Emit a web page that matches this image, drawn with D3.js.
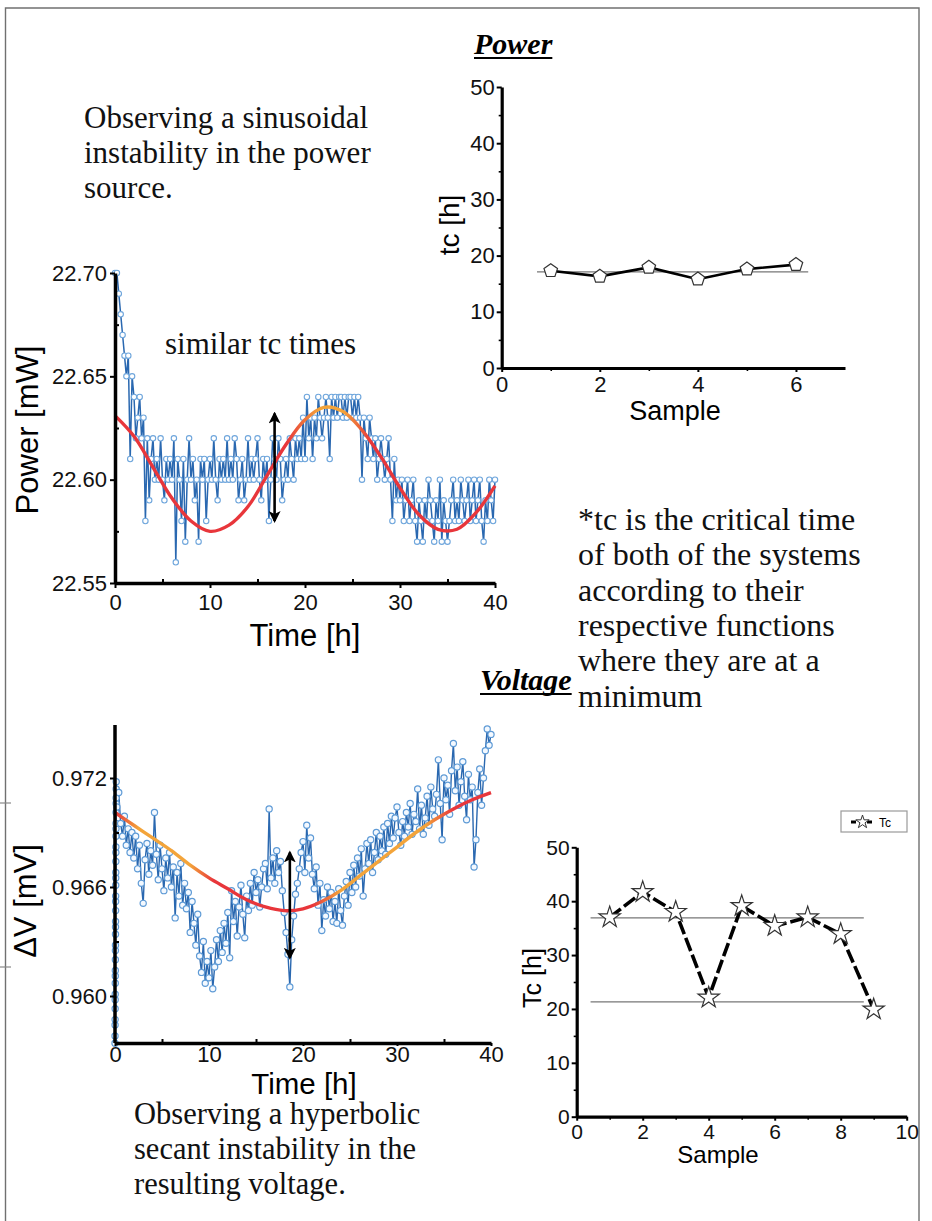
<!DOCTYPE html>
<html><head><meta charset="utf-8">
<script src="https://cdn.jsdelivr.net/npm/d3@7"></script>
<style>
html,body{margin:0;padding:0;background:#fff;}
svg{display:block;}
.sans{font-family:"Liberation Sans",Arial,sans-serif;}
.serif{font-family:"Liberation Serif","Times New Roman",serif;}
</style></head><body>
<svg id="fig" width="932" height="1221"></svg>
<script>
// ---------- data ----------
// Power measurement, one sample every 0.2 h from t = 0 h
const powerStep = 0.2;
const powerValues = [
22.70,22.70,22.69,22.68,22.67,22.66,22.65,22.66,22.61,22.65,
22.64,22.62,22.63,22.64,22.62,22.63,22.58,22.62,22.59,22.61,
22.62,22.60,22.61,22.60,22.62,22.60,22.59,22.61,22.60,22.61,
22.60,22.62,22.56,22.61,22.60,22.58,22.61,22.57,22.60,22.62,
22.60,22.61,22.59,22.60,22.57,22.61,22.60,22.61,22.58,22.60,
22.61,22.60,22.62,22.60,22.59,22.61,22.60,22.61,22.60,22.62,
22.60,22.61,22.60,22.62,22.61,22.59,22.60,22.61,22.59,22.60,
22.62,22.60,22.61,22.60,22.61,22.62,22.60,22.59,22.61,22.60,
22.61,22.58,22.60,22.62,22.61,22.60,22.62,22.61,22.59,22.60,
22.61,22.60,22.62,22.61,22.60,22.62,22.61,22.62,22.61,22.63,
22.61,22.64,22.62,22.63,22.61,22.63,22.62,22.64,22.63,22.62,
22.63,22.64,22.63,22.61,22.64,22.63,22.64,22.63,22.64,22.64,
22.63,22.64,22.63,22.64,22.64,22.63,22.64,22.63,22.64,22.63,
22.60,22.63,22.62,22.61,22.63,22.62,22.61,22.62,22.60,22.61,
22.62,22.61,22.60,22.61,22.62,22.60,22.58,22.61,22.59,22.60,
22.59,22.60,22.58,22.59,22.60,22.58,22.59,22.60,22.58,22.57,
22.59,22.58,22.57,22.59,22.58,22.60,22.59,22.58,22.57,22.59,
22.58,22.60,22.57,22.59,22.58,22.57,22.58,22.59,22.60,22.58,
22.59,22.58,22.60,22.59,22.58,22.59,22.60,22.58,22.59,22.60,
22.58,22.59,22.60,22.58,22.57,22.59,22.58,22.60,22.59,22.58,
22.60];

// Fitted curves, sampled every 2 h
const fitTimes = [0,2,4,6,8,10,12,14,16,18,20,22,24,26,28,30,32,34,36,38,40];
const powerFit = [22.631,22.621,22.606,22.591,22.580,22.575,22.578,22.587,22.602,22.617,
                  22.629,22.635,22.633,22.624,22.611,22.596,22.583,22.576,22.576,22.584,22.597];
const voltageFit = [0.9701,0.9694,0.9687,0.9680,0.9672,0.9665,0.9659,0.9653,0.9649,0.9647,
                    0.9648,0.9652,0.9658,0.9666,0.9674,0.9682,0.9690,0.9697,0.9703,0.9708,0.9712];

// Voltage: start-up sweep recorded in the first minutes (0.004 h apart)
const voltageStartStep = 0.004;
const voltageStart = [0.9574,0.9578,0.9584,0.9587,0.9593,0.9598,0.9601,0.9607,0.9611,0.9614,
                      0.9620,0.9625,0.9628,0.9634,0.9638,0.9641,0.9647,0.9652,0.9655,0.9661,
                      0.9665,0.9668,0.9674,0.9679,0.9682,0.9688,0.9692,0.9695,0.9701,0.9706,
                      0.9709,0.9714,0.9718];
// Voltage: regular samples every 0.2 h starting at t = 0.2 h
const voltageStep = 0.2;
const voltageValues = [
0.9704,0.9712,0.9695,0.9688,0.9699,0.9683,0.9692,0.9679,0.9690,
0.9676,0.9688,0.9670,0.9683,0.9662,0.9651,0.9675,0.9684,0.9667,0.9680,
0.9672,0.9701,0.9678,0.9664,0.9683,0.9670,0.9658,0.9676,0.9665,0.9679,
0.9660,0.9671,0.9643,0.9668,0.9655,0.9673,0.9650,0.9662,0.9648,0.9657,
0.9635,0.9652,0.9640,0.9628,0.9645,0.9622,0.9613,0.9630,0.9607,0.9619,
0.9610,0.9625,0.9604,0.9616,0.9631,0.9619,0.9636,0.9624,0.9640,0.9629,
0.9646,0.9621,0.9658,0.9641,0.9652,0.9633,0.9649,0.9661,0.9645,0.9632,
0.9655,0.9647,0.9662,0.9650,0.9668,0.9657,0.9664,0.9649,0.9660,0.9670,
0.9673,0.9659,0.9703,0.9665,0.9676,0.9662,0.9680,0.9668,0.9674,0.9658,
0.9646,0.9635,0.9623,0.9605,0.9631,0.9644,0.9656,0.9662,0.9670,0.9679,
0.9685,0.9668,0.9694,0.9676,0.9687,0.9667,0.9659,0.9671,0.9650,0.9662,
0.9636,0.9653,0.9644,0.9660,0.9648,0.9657,0.9641,0.9652,0.9640,0.9659,
0.9647,0.9639,0.9655,0.9663,0.9650,0.9668,0.9657,0.9672,0.9660,0.9676,
0.9666,0.9681,0.9655,0.9670,0.9684,0.9673,0.9686,0.9668,0.9679,0.9690,
0.9675,0.9688,0.9680,0.9693,0.9678,0.9695,0.9684,0.9699,0.9687,0.9698,
0.9704,0.9690,0.9683,0.9696,0.9688,0.9701,0.9693,0.9706,0.9689,0.9700,
0.9696,0.9714,0.9692,0.9705,0.9689,0.9698,0.9710,0.9694,0.9715,0.9703,
0.9699,0.9711,0.9730,0.9706,0.9686,0.9720,0.9708,0.9716,0.9700,0.9724,
0.9739,0.9713,0.9726,0.9705,0.9718,0.9729,0.9710,0.9697,0.9722,0.9708,
0.9715,0.9671,0.9686,0.9712,0.9725,0.9705,0.9720,0.9735,0.9747,0.9738,
0.9744];

// Critical times per sample
const powerSamples = [1,2,3,4,5,6];
const powerTc = [17.3,16.3,17.9,15.8,17.6,18.4];
const powerTcMean = 17.1;
const voltageSamples = [1,2,3,4,5,6,7,8,9];
const voltageTc = [37.0,41.7,38.0,22.1,39.1,35.4,37.0,33.9,19.9];
const voltageTcLevels = [36.9,21.3];

// Double-headed arrows marking the similar tc times: [time, from, to]
const powerArrow = [16.8, 22.632, 22.580];
const voltageArrow = [18.6, 0.9679, 0.9621];

// Text blocks
const powerNote = ["Observing a sinusoidal", "instability in the power", "source."];
const voltageNote = ["Observing a hyperbolic", "secant instability in the", "resulting voltage."];
const tcNote = ["*tc is the critical time", "of both of the systems", "according to their",
                "respective functions", "where they are at a", "minimum"];

// ---------- drawing ----------
const svg = d3.select("#fig");
const defs = svg.append("defs");

// arrow heads
defs.append("marker").attr("id","ahead").attr("viewBox","0 0 12 12")
  .attr("refX",10).attr("refY",6).attr("markerWidth",12).attr("markerHeight",12)
  .attr("markerUnits","userSpaceOnUse").attr("orient","auto-start-reverse")
  .append("path").attr("d","M0,0 L12,6 L0,12 L3,6 Z").attr("fill","#000");

// page frame
svg.append("path").attr("d","M5.5,1221 V8 H919 V1221")
  .attr("fill","none").attr("stroke","#707070").attr("stroke-width",1.4);
svg.append("line").attr("x1",0).attr("x2",11).attr("y1",803).attr("y2",803).attr("stroke","#888").attr("stroke-width",1.2);
svg.append("line").attr("x1",0).attr("x2",11).attr("y1",967).attr("y2",967).attr("stroke","#888").attr("stroke-width",1.2);

function styleAxis(g, w){
  g.select(".domain").attr("stroke","#000").attr("stroke-width",w);
  g.selectAll(".tick line").attr("stroke","#000").attr("stroke-width",2);
  g.selectAll(".tick text").attr("fill","#111");
  g.attr("font-family",null).attr("font-size",null);
}

function fitGradient(id, x, stops){
  const lg = defs.append("linearGradient").attr("id",id)
    .attr("gradientUnits","userSpaceOnUse")
    .attr("x1",x(0)).attr("x2",x(40)).attr("y1",0).attr("y2",0);
  stops.forEach(s => lg.append("stop").attr("offset",s[0]/40).attr("stop-color",s[1]));
}
const RED = "#e8363b", ORANGE = "#f3a43a";

// ===== Power vs time =====
{
  const x = d3.scaleLinear().domain([0,40]).range([115,495]);
  const y = d3.scaleLinear().domain([22.55,22.70]).range([583,273]);
  const g = svg.append("g").attr("class","sans");

  const pts = powerValues.map((v,i)=>[i*powerStep, v]);
  g.append("path").datum(pts)
    .attr("d", d3.line().x(d=>x(d[0])).y(d=>y(d[1])))
    .attr("fill","none").attr("stroke","#2a68b0").attr("stroke-width",1.5);
  g.selectAll("circle.p").data(pts).join("circle").attr("class","p")
    .attr("cx",d=>x(d[0])).attr("cy",d=>y(d[1])).attr("r",2.7)
    .attr("fill","#fff").attr("stroke","#6fa6dc").attr("stroke-width",1.1);

  fitGradient("gPow", x, [[0,RED],[18,RED],[21.5,ORANGE],[24,ORANGE],[27,RED],[40,RED]]);
  g.append("path").datum(fitTimes.map((t,i)=>[t,powerFit[i]]))
    .attr("d", d3.line().curve(d3.curveCatmullRom).x(d=>x(d[0])).y(d=>y(d[1])))
    .attr("fill","none").attr("stroke","url(#gPow)").attr("stroke-width",3.4);

  g.append("line").attr("x1",x(powerArrow[0])).attr("x2",x(powerArrow[0]))
    .attr("y1",y(powerArrow[1])).attr("y2",y(powerArrow[2]))
    .attr("stroke","#000").attr("stroke-width",2.6)
    .attr("marker-start","url(#ahead)").attr("marker-end","url(#ahead)");

  const ax = g.append("g").attr("transform","translate(0,583)")
    .call(d3.axisBottom(x).tickValues([0,10,20,30,40]).tickSize(5).tickSizeOuter(0).tickPadding(6));
  ax.call(a=>styleAxis(a,3.5));
  ax.selectAll(".tick text").attr("font-size",22);
  g.append("g").attr("transform","translate(0,583)")
    .call(d3.axisTop(x).tickValues([5,15,25,35]).tickSize(4).tickFormat(""))
    .call(a=>{a.select(".domain").remove(); a.selectAll("line").attr("stroke","#000").attr("stroke-width",2);});

  const ay = g.append("g").attr("transform","translate(115,0)")
    .call(d3.axisLeft(y).tickValues([22.55,22.60,22.65,22.70]).tickFormat(d3.format(".2f"))
      .tickSize(5).tickSizeOuter(0).tickPadding(3));
  ay.call(a=>styleAxis(a,3.5));
  ay.selectAll(".tick text").attr("font-size",22);
  g.append("g").attr("transform","translate(115,0)")
    .call(d3.axisRight(y).tickValues([22.575,22.625,22.675]).tickSize(4).tickFormat(""))
    .call(a=>{a.select(".domain").remove(); a.selectAll("line").attr("stroke","#000").attr("stroke-width",2);});

  g.append("text").attr("x",305).attr("y",646).attr("text-anchor","middle")
    .attr("font-size",31).text("Time [h]");
  g.append("text").attr("transform","translate(38,430) rotate(-90)").attr("text-anchor","middle")
    .attr("font-size",31).text("Power [mW]");
}

// ===== Voltage vs time =====
{
  const x = d3.scaleLinear().domain([0,40]).range([115,491]);
  const y = d3.scaleLinear().domain([0.960,0.972]).range([996,778]);
  const g = svg.append("g").attr("class","sans");

  const pts = voltageStart.map((v,i)=>[i*voltageStartStep, v])
    .concat(voltageValues.map((v,i)=>[(i+1)*voltageStep, v]));
  g.append("path").datum(pts)
    .attr("d", d3.line().x(d=>x(d[0])).y(d=>y(d[1])))
    .attr("fill","none").attr("stroke","#2a68b0").attr("stroke-width",1.4);
  g.selectAll("circle.v").data(pts).join("circle").attr("class","v")
    .attr("cx",d=>x(d[0])).attr("cy",d=>y(d[1])).attr("r",3.1)
    .attr("fill","#f4f9ff").attr("stroke","#5f9bd6").attr("stroke-width",1.2);

  fitGradient("gVol", x, [[0,RED],[2.5,ORANGE],[8,ORANGE],[10.5,RED],[21,RED],[24,ORANGE],[33,ORANGE],[36,RED],[40,RED]]);
  g.append("path").datum(fitTimes.map((t,i)=>[t,voltageFit[i]]))
    .attr("d", d3.line().curve(d3.curveCatmullRom).x(d=>x(d[0])).y(d=>y(d[1])))
    .attr("fill","none").attr("stroke","url(#gVol)").attr("stroke-width",3.4);

  g.append("line").attr("x1",x(voltageArrow[0])).attr("x2",x(voltageArrow[0]))
    .attr("y1",y(voltageArrow[1])).attr("y2",y(voltageArrow[2]))
    .attr("stroke","#000").attr("stroke-width",2.6)
    .attr("marker-start","url(#ahead)").attr("marker-end","url(#ahead)");

  // axis lines extend past the labelled ticks
  const yTop = 725, yBot = 1043;
  const ax = g.append("g").attr("transform",`translate(0,${yBot})`)
    .call(d3.axisBottom(x).tickValues([0,10,20,30,40]).tickSize(3).tickSizeOuter(0).tickPadding(0));
  ax.call(a=>styleAxis(a,3.5));
  ax.selectAll(".tick text").attr("font-size",22);
  g.append("g").attr("transform",`translate(0,${yBot})`)
    .call(d3.axisTop(x).tickValues([5,15,25,35]).tickSize(4).tickFormat(""))
    .call(a=>{a.select(".domain").remove(); a.selectAll("line").attr("stroke","#000").attr("stroke-width",2);});

  const ay = g.append("g").attr("transform","translate(115,0)")
    .call(d3.axisLeft(y).tickValues([0.960,0.966,0.972]).tickFormat(d3.format(".3f"))
      .tickSize(5).tickPadding(3));
  ay.select(".domain").remove();
  styleAxis(ay,3.5);
  ay.selectAll(".tick text").attr("font-size",22);
  g.append("line").attr("x1",115).attr("x2",115).attr("y1",yTop).attr("y2",yBot)
    .attr("stroke","#000").attr("stroke-width",3.5);
  g.append("g").attr("transform","translate(115,0)")
    .call(d3.axisRight(y).tickValues([0.963,0.969]).tickSize(4).tickFormat(""))
    .call(a=>{a.select(".domain").remove(); a.selectAll("line").attr("stroke","#000").attr("stroke-width",2);});

  g.append("text").attr("x",304).attr("y",1094).attr("text-anchor","middle")
    .attr("font-size",29.5).text("Time [h]");
  g.append("text").attr("transform","translate(36,901) rotate(-90)").attr("text-anchor","middle")
    .attr("font-size",31).text("ΔV [mV]");
}

// pentagon symbol for the power tc markers
const symbolPentagon = {
  draw(ctx, size){
    const r = Math.sqrt(size / 2.3776);
    for (let i = 0; i < 5; i++){
      const a = -Math.PI/2 + i*2*Math.PI/5;
      const px = r*Math.cos(a), py = r*Math.sin(a);
      if (i === 0) ctx.moveTo(px,py); else ctx.lineTo(px,py);
    }
    ctx.closePath();
  }
};

// ===== Power tc vs sample =====
{
  const x = d3.scaleLinear().domain([0,7]).range([501.7,845]);
  const y = d3.scaleLinear().domain([0,50]).range([368,87]);
  const g = svg.append("g").attr("class","sans");

  g.append("line").attr("x1",x(0.72)).attr("x2",x(6.25))
    .attr("y1",y(powerTcMean)).attr("y2",y(powerTcMean))
    .attr("stroke","#777").attr("stroke-width",1.2);
  g.append("path").datum(powerSamples.map((s,i)=>[s,powerTc[i]]))
    .attr("d", d3.line().x(d=>x(d[0])).y(d=>y(d[1])))
    .attr("fill","none").attr("stroke","#000").attr("stroke-width",2.6);
  g.selectAll("path.pent").data(powerSamples.map((s,i)=>[s,powerTc[i]])).join("path")
    .attr("class","pent")
    .attr("transform",d=>`translate(${x(d[0])},${y(d[1])})`)
    .attr("d", d3.symbol().type(symbolPentagon).size(120))
    .attr("fill","#fff").attr("stroke","#333").attr("stroke-width",1.2);

  const ax = g.append("g").attr("transform","translate(0,368)")
    .call(d3.axisBottom(x).tickValues([0,2,4,6]).tickFormat(d3.format("d"))
      .tickSize(4).tickSizeOuter(0).tickPadding(4));
  ax.call(a=>styleAxis(a,3.2));
  ax.selectAll(".tick text").attr("font-size",22);
  g.append("g").attr("transform","translate(0,368)")
    .call(d3.axisBottom(x).tickValues([1,3,5]).tickSize(3).tickFormat(""))
    .call(a=>{a.select(".domain").remove(); a.selectAll("line").attr("stroke","#000").attr("stroke-width",1.6);});

  const ay = g.append("g").attr("transform","translate(501.7,0)")
    .call(d3.axisLeft(y).tickValues([0,10,20,30,40,50]).tickFormat(d3.format("d"))
      .tickSize(5).tickSizeOuter(0).tickPadding(2));
  ay.call(a=>styleAxis(a,3.2));
  ay.selectAll(".tick text").attr("font-size",22);
  g.append("g").attr("transform","translate(501.7,0)")
    .call(d3.axisLeft(y).tickValues([5,15,25,35,45]).tickSize(3).tickFormat(""))
    .call(a=>{a.select(".domain").remove(); a.selectAll("line").attr("stroke","#000").attr("stroke-width",1.6);});

  g.append("text").attr("x",675).attr("y",420).attr("text-anchor","middle")
    .attr("font-size",27).text("Sample");
  g.append("text").attr("transform","translate(459,225) rotate(-90)").attr("text-anchor","middle")
    .attr("font-size",28).text("tc [h]");
}

// ===== Voltage Tc vs sample =====
{
  const x = d3.scaleLinear().domain([0,10]).range([576.7,906.7]);
  const y = d3.scaleLinear().domain([0,50]).range([1116.7,847.3]);
  const g = svg.append("g").attr("class","sans");

  voltageTcLevels.forEach(v=>{
    g.append("line").attr("x1",x(0.42)).attr("x2",x(8.7))
      .attr("y1",y(v)).attr("y2",y(v))
      .attr("stroke","#777").attr("stroke-width",1.2);
  });
  g.append("path").datum(voltageSamples.map((s,i)=>[s,voltageTc[i]]))
    .attr("d", d3.line().x(d=>x(d[0])).y(d=>y(d[1])))
    .attr("fill","none").attr("stroke","#000").attr("stroke-width",3.6)
    .attr("stroke-dasharray","14,4");
  g.selectAll("path.star").data(voltageSamples.map((s,i)=>[s,voltageTc[i]])).join("path")
    .attr("class","star")
    .attr("transform",d=>`translate(${x(d[0])},${y(d[1])})`)
    .attr("d", d3.symbol().type(d3.symbolStar).size(140))
    .attr("fill","#fff").attr("stroke","#333").attr("stroke-width",1.2);

  const ax = g.append("g").attr("transform","translate(0,1116.7)")
    .call(d3.axisBottom(x).tickValues([0,2,4,6,8,10]).tickSize(4).tickSizeOuter(0).tickPadding(3));
  ax.call(a=>styleAxis(a,3.2));
  ax.selectAll(".tick text").attr("font-size",21);
  g.append("g").attr("transform","translate(0,1116.7)")
    .call(d3.axisBottom(x).tickValues([1,3,5,7,9]).tickSize(3).tickFormat(""))
    .call(a=>{a.select(".domain").remove(); a.selectAll("line").attr("stroke","#000").attr("stroke-width",1.6);});

  const ay = g.append("g").attr("transform","translate(576.7,0)")
    .call(d3.axisLeft(y).tickValues([0,10,20,30,40,50]).tickSize(5).tickSizeOuter(0).tickPadding(2));
  ay.call(a=>styleAxis(a,3.2));
  ay.selectAll(".tick text").attr("font-size",21);
  g.append("g").attr("transform","translate(576.7,0)")
    .call(d3.axisLeft(y).tickValues([5,15,25,35,45]).tickSize(3).tickFormat(""))
    .call(a=>{a.select(".domain").remove(); a.selectAll("line").attr("stroke","#000").attr("stroke-width",1.6);});

  g.append("text").attr("x",718).attr("y",1163).attr("text-anchor","middle")
    .attr("font-size",24).text("Sample");
  g.append("text").attr("transform","translate(541,978) rotate(-90)").attr("text-anchor","middle")
    .attr("font-size",25).text("Tc [h]");

  // legend
  const lg = g.append("g").attr("transform","translate(841,811)");
  lg.append("rect").attr("width",66).attr("height",21).attr("fill","#fff")
    .attr("stroke","#9a9a9a").attr("stroke-width",1.2);
  lg.append("line").attr("x1",10).attr("x2",33).attr("y1",11).attr("y2",11)
    .attr("stroke","#000").attr("stroke-width",3).attr("stroke-dasharray","5,3");
  lg.append("path").attr("transform","translate(21.5,11)")
    .attr("d", d3.symbol().type(d3.symbolStar).size(55))
    .attr("fill","#fff").attr("stroke","#333").attr("stroke-width",1);
  lg.append("text").attr("x",38).attr("y",15.5).attr("font-size",12).text("Tc");
}

// ===== titles and notes =====
function title(txt, x, yb){
  const t = svg.append("text").attr("class","serif").attr("x",x).attr("y",yb)
    .attr("font-size",30).attr("font-weight","bold").attr("font-style","italic").text(txt);
  const w = t.node().getComputedTextLength();
  svg.append("line").attr("x1",x).attr("x2",x+w).attr("y1",yb+4).attr("y2",yb+4)
    .attr("stroke","#000").attr("stroke-width",2.2);
}
title("Power", 474, 54);
title("Voltage", 480, 690);

function note(lines, x, y0, lh, fs){
  const t = svg.append("text").attr("class","serif").attr("font-size",fs).attr("fill","#111");
  lines.forEach((l,i)=>t.append("tspan").attr("x",x).attr("y",y0+i*lh).text(l));
}
note(powerNote, 84, 128, 35, 31);
note(voltageNote, 134, 1124, 35, 30.5);
note(tcNote, 578, 530, 35.3, 32);
svg.append("text").attr("class","serif").attr("font-size",31).attr("fill","#111")
  .attr("x",165).attr("y",354).text("similar tc times");
</script>
</body></html>
